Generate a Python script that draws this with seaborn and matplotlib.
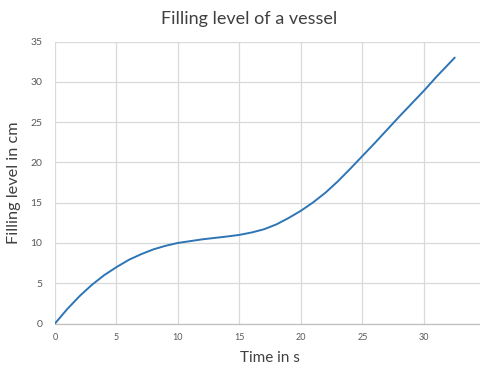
import matplotlib
matplotlib.use("Agg")
import matplotlib.pyplot as plt
import seaborn as sns
import pandas as pd

time_s = [0, 1, 2, 3, 4, 5, 6, 7, 8, 9, 10, 12, 14, 15, 16, 17, 18, 19, 20,
          21, 22, 23, 24, 25, 26, 27, 28, 29, 30, 31, 32.5]
level_cm = [0, 1.8, 3.4, 4.8, 6.0, 7.0, 7.9, 8.6, 9.2, 9.65, 10.0, 10.45, 10.8, 11.0,
            11.3, 11.7, 12.3, 13.1, 14.0, 15.05, 16.25, 17.65, 19.2, 20.8, 22.4,
            24.05, 25.7, 27.3, 28.9, 30.6, 33.0]
x_ticks = [0, 5, 10, 15, 20, 25, 30, 35]
y_ticks = [0, 5, 10, 15, 20, 25, 30, 35]

df = pd.DataFrame({"Time in s": time_s, "Filling level in cm": level_cm})

sns.set_theme(style="white")
plt.rcParams['font.family'] = ['Lato', 'DejaVu Sans']

fig = plt.figure(figsize=(4.81, 3.67), dpi=100)
ax = fig.add_axes([55/481, (367-323.5)/367, (485.5-55)/481, (323.5-41.5)/367])

sns.lineplot(data=df, x="Time in s", y="Filling level in cm", ax=ax,
             color="#2E75B6", linewidth=1.4, sort=False)

ax.set_xlim(0, 35)
ax.set_ylim(0, 35)
ax.set_xticks(x_ticks)
ax.set_yticks(y_ticks)
ax.grid(True, color="#D9D9D9", linewidth=0.9)
for s in ["top", "right", "left"]:
    ax.spines[s].set_visible(False)
ax.spines["bottom"].set_color("#BFBFBF")
ax.spines["bottom"].set_linewidth(0.9)
ax.tick_params(axis="both", length=0, colors="#595959")
ax.tick_params(axis="x", labelsize=6.5, pad=7)
ax.tick_params(axis="y", labelsize=7.5, pad=9)
ax.set_xlabel("Time in s", fontsize=11, color="#404040", labelpad=6)
ax.set_ylabel("Filling level in cm", fontsize=11.7, color="#404040", labelpad=7)
fig.text(249/481, 1 - 19/367, "Filling level of a vessel", ha="center", va="center",
         fontsize=13, color="#404040")

fig.savefig("out.png", dpi=100)
